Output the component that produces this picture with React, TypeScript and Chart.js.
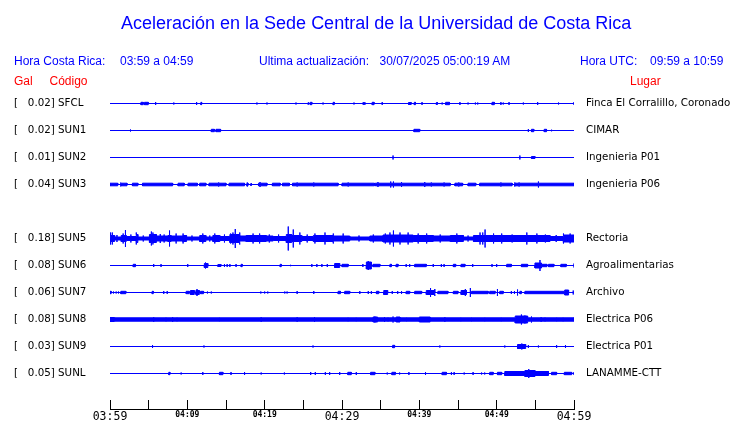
import React, { useEffect, useRef } from 'react';
import { Chart, registerables } from 'chart.js';

Chart.register(...registerables);

// ---------------- data ----------------
const STATIONS = ['SFCL', 'SUN1', 'SUN2', 'SUN3', 'SUN4', 'SUN5', 'SUN6', 'SUN7', 'SUN8', 'SUN9', 'SUNL'];
const PEAK_GAL: (number | null)[] = [0.02, 0.02, 0.01, 0.04, null, 0.18, 0.08, 0.06, 0.08, 0.03, 0.05];
const PLACES = [
  'Finca El Corralillo, Coronado', 'CIMAR', 'Ingenieria P01', 'Ingenieria P06', '',
  'Rectoria', 'Agroalimentarias', 'Archivo', 'Electrica P06', 'Electrica P01', 'LANAMME-CTT',
];
// minutes after 03:59
const TICK_MINUTES = [0, 5, 10, 15, 20, 25, 30, 35, 40, 45, 50, 55, 60];
const TICK_LABELS = ['03:59', '', '04:09', '', '04:19', '', '04:29', '', '04:39', '', '04:49', '', '04:59'];
const MAJOR_TICKS = ['03:59', '04:29', '04:59'];

// events: blocks [startMin, endMin, amplitude], spikes [min, amplitude]  (relative amplitude units)
const SFCL_BLOCKS = [[4.0, 4.3, 1.2], [4.45, 4.95, 1.2], [11.75, 11.85, 1.2], [25.6, 25.7, 0.8], [25.9, 26.1, 1.2], [28.85, 29.0, 1.2], [33.9, 34.15, 1.2], [38.6, 38.95, 1], [39.35, 39.5, 1.2], [42.2, 42.35, 1], [43.4, 43.9, 1.2], [49.4, 49.7, 1.2]];
const SFCL_SPIKES = [[5.9, 1.5], [8.25, 1], [11.2, 1.5], [19.0, 1], [20.3, 1], [24.05, 1], [27.55, 1], [31.55, 1], [32.75, 1.5], [32.95, 1.5], [35.2, 1.5], [40.35, 1.5], [42.95, 1], [45.25, 1.5], [46.3, 1], [47.25, 1], [47.55, 1], [50.55, 1.5], [50.85, 1], [51.6, 1.5], [53.45, 1], [55.3, 1.5], [58.0, 1], [60.0, 1.5]];

const SUN1_BLOCKS = [[13.1, 13.5, 1.2], [13.7, 14.3, 1.2], [39.3, 40.05, 1.2], [54.5, 54.8, 1.2], [56.15, 56.45, 1.2]];
const SUN1_SPIKES = [[2.65, 1], [54.1, 1.5], [57.1, 0.8]];

const SUN2_BLOCKS = [[54.5, 54.95, 1]];
const SUN2_SPIKES = [[36.6, 2], [53.0, 2]];

const SUN3_BLOCKS = [[0.0, 1.0, 1.3], [1.5, 2.2, 1.3], [2.9, 3.6, 1.3], [4.2, 8.1, 1.3], [8.8, 9.6, 1.3], [10.1, 11.3, 1.3], [11.6, 12.4, 1.3], [12.8, 15.0, 1.3], [15.4, 17.4, 1.3], [17.7, 17.85, 1.3], [18.2, 18.3, 1], [19.2, 20.3, 1.3], [21.0, 22.0, 1.3], [22.3, 23.2, 1.3], [23.6, 29.5, 1.3], [30.0, 34.2, 1.3], [34.3, 44.0, 1.3], [44.6, 45.6, 1.3], [46.3, 47.3, 1.3], [47.8, 52.0, 1.3], [52.3, 60.0, 1.3]];
const SUN3_SPIKES = [[1.4, 2], [14.05, 2], [17.75, 2], [19.4, 2.5], [24.2, 2], [26.35, 2], [30.8, 2], [34.65, 2.5], [36.3, 3], [36.65, 3], [37.7, 2.5], [40.7, 2.5], [41.55, 2], [43.2, 2], [45.1, 2], [50.55, 2], [52.35, 2], [52.9, 2], [55.4, 3]];

const SUN5_BLOCKS = [[0, 0.6, 3], [0.6, 1.45, 1.5], [1.45, 2.1, 3], [2.1, 3.4, 2], [3.4, 3.6, 4], [3.6, 5.1, 1.5], [5.1, 6.0, 4], [6.0, 7.5, 2.5], [7.5, 7.9, 3], [7.9, 9.4, 2.5], [9.4, 9.9, 3], [9.9, 11.6, 1.5], [11.6, 12.4, 3], [12.4, 13.3, 1.5], [13.3, 14.2, 3], [14.2, 15.5, 2], [15.5, 16.8, 4], [16.8, 17.6, 2.5], [17.6, 20.2, 3], [20.2, 21.1, 2.5], [21.1, 22.8, 2], [22.8, 23.5, 4], [23.5, 24.8, 3], [24.8, 26.3, 2], [26.3, 28.9, 3], [28.9, 31.0, 2.5], [31.0, 33.6, 1.5], [33.6, 35.3, 2.5], [35.3, 38.4, 3.5], [38.4, 39.2, 3.5], [39.2, 41.8, 3], [41.8, 44.0, 2.5], [44.0, 45.7, 3], [45.7, 47.0, 1.5], [47.0, 53.9, 3], [53.9, 56.9, 3], [56.9, 58.6, 2], [58.6, 60, 3.5]];
const SUN5_SPIKES = [[0.1, 6], [0.3, 6], [0.9, 3.5], [1.7, 5], [2.0, 8.5], [2.7, 4], [3.4, 6], [4.3, 3], [5.35, 7], [5.55, 6], [6.5, 4.5], [7.0, 4], [7.7, 8], [8.55, 5], [9.45, 5], [10.6, 3], [12.0, 5], [12.9, 3], [13.55, 5], [14.8, 4], [15.6, 5], [15.9, 6], [16.2, 9.5], [16.75, 6], [18.5, 5], [19.35, 5], [20.6, 4], [21.8, 4], [23.05, 12], [23.7, 9], [24.55, 6], [25.5, 4], [26.5, 5], [27.8, 6], [28.85, 5], [30.15, 5], [32.2, 3], [34.05, 4], [35.6, 5], [36.2, 6], [36.65, 8], [37.5, 6], [38.55, 6], [39.85, 5], [40.95, 5], [42.7, 4], [44.85, 5], [46.3, 3], [47.85, 6], [48.2, 6], [48.5, 9], [49.6, 5], [50.65, 5], [52.0, 4], [53.9, 6], [55.2, 5], [56.3, 4], [57.7, 3.5], [58.65, 5], [59.5, 5]];

const SUN6_BLOCKS = [[3.0, 3.3, 1.2], [12.2, 12.65, 2], [13.95, 14.35, 1], [16.95, 17.1, 1.2], [22.0, 22.15, 1.2], [29.05, 29.7, 2], [30.0, 30.8, 1.2], [33.15, 33.8, 3.5], [34.0, 34.9, 1.2], [36.2, 36.4, 1.2], [37.0, 37.25, 1.2], [39.4, 40.9, 1.2], [44.4, 44.7, 1.2], [45.4, 45.9, 1.2], [51.3, 51.9, 1.2], [53.2, 54.0, 1.2], [54.95, 55.8, 2.5], [55.8, 56.5, 1.2], [56.7, 57.4, 1.2], [58.3, 59.0, 1.2]];
const SUN6_SPIKES = [[5.65, 1.5], [6.6, 1.5], [10.05, 1.5], [12.35, 3], [14.8, 1.5], [15.15, 1.5], [15.5, 1.5], [16.3, 1.5], [23.35, 0.7], [26.1, 1.5], [26.75, 1.5], [27.4, 1.5], [28.1, 1.5], [32.7, 1.5], [33.4, 4.5], [38.3, 1.5], [38.75, 1.5], [41.8, 1.5], [42.85, 1.5], [43.2, 1.5], [46.9, 1.5], [49.4, 1.5], [50.0, 1.5], [55.6, 5.5], [60.0, 2]];

const SUN7_BLOCKS = [[0.0, 0.15, 1.2], [1.4, 2.05, 1.2], [5.45, 5.6, 1.2], [9.85, 10.25, 1.2], [10.4, 10.9, 2], [11.1, 11.55, 2], [11.7, 12.1, 1.2], [29.5, 29.8, 1.2], [30.35, 31.0, 1.2], [34.45, 34.75, 1.2], [35.4, 35.9, 2], [38.3, 38.75, 1.2], [39.4, 40.3, 1.2], [40.9, 42.0, 2], [42.4, 43.7, 1.2], [44.4, 45.0, 1.2], [45.4, 46.1, 2], [46.75, 48.9, 1.2], [49.1, 49.8, 1.2], [50.4, 50.85, 1.2], [53.0, 53.2, 1.2], [53.65, 58.8, 1.2], [58.8, 59.3, 2.5]];
const SUN7_SPIKES = [[0.45, 1], [0.8, 1], [1.1, 1], [6.95, 1.5], [7.4, 1.5], [11.25, 3.5], [12.6, 1], [13.1, 1], [19.5, 1], [20.0, 1], [20.4, 1], [22.6, 1], [22.9, 1], [24.2, 1.5], [26.35, 1.5], [32.3, 1.5], [33.4, 1.5], [33.8, 1.5], [36.5, 1.5], [37.2, 1.5], [37.7, 1.5], [41.45, 4.5], [42.0, 3.5], [45.95, 3.5], [46.6, 4.5], [50.1, 3.5], [51.9, 1.5], [52.3, 1.5], [52.7, 3], [59.9, 2]];

const SUN8_BLOCKS = [[0.0, 0.6, 2], [0.6, 34.0, 1.7], [34.0, 34.6, 2.5], [34.6, 37.0, 1.7], [37.0, 37.5, 2.5], [37.5, 40.0, 1.7], [40.0, 41.4, 2.5], [41.4, 52.4, 1.7], [52.4, 54.0, 3.5], [54.0, 60.0, 1.7]];
const SUN8_SPIKES = [[5.65, 2.5], [7.25, 2], [8.1, 2.5], [8.65, 2], [14.15, 2], [19.55, 2.5], [24.2, 2.5], [26.45, 2.5], [30.8, 2], [31.85, 2], [34.25, 3], [35.5, 2.5], [35.95, 2], [36.6, 3], [38.35, 2], [43.3, 2.5], [45.35, 2], [46.75, 2], [48.45, 2], [50.6, 2], [53.2, 5], [53.65, 4], [54.5, 3], [55.75, 2.5], [56.25, 2], [57.75, 2], [58.6, 2]];

const SUN9_BLOCKS = [[36.55, 36.8, 1.2], [52.7, 53.75, 2]];
const SUN9_SPIKES = [[5.5, 1.5], [12.15, 1], [26.25, 1], [42.65, 1], [51.05, 1], [53.25, 3], [54.1, 1.5], [55.4, 1], [57.75, 1.5], [58.9, 1.5]];

const SUNL_BLOCKS = [[7.6, 7.75, 1.2], [14.15, 14.6, 1.2], [30.75, 31.2, 1.2], [33.7, 34.25, 1.2], [36.45, 36.9, 1.2], [42.95, 43.5, 1.2], [49.1, 49.55, 1.2], [50.1, 50.65, 1.2], [51.05, 53.65, 2], [53.65, 54.95, 3], [54.95, 56.7, 2], [57.1, 57.75, 1.2], [58.75, 59.7, 1.2]];
const SUNL_SPIKES = [[9.2, 1], [12.0, 1.5], [15.65, 1.5], [17.4, 1.5], [19.55, 1], [22.55, 1], [25.95, 1.5], [26.55, 1.5], [27.85, 1.5], [28.4, 1.5], [29.7, 1.5], [31.85, 1.5], [35.85, 1], [37.45, 1], [38.65, 1.5], [40.8, 1.5], [44.15, 1.5], [44.5, 1.5], [45.8, 1], [46.95, 1.5], [48.05, 1], [48.45, 1], [54.15, 4.5], [60.0, 1.5]];

const BLOCKS: (number[][] | null)[] = [SFCL_BLOCKS, SUN1_BLOCKS, SUN2_BLOCKS, SUN3_BLOCKS, null, SUN5_BLOCKS, SUN6_BLOCKS, SUN7_BLOCKS, SUN8_BLOCKS, SUN9_BLOCKS, SUNL_BLOCKS];
const SPIKES: (number[][] | null)[] = [SFCL_SPIKES, SUN1_SPIKES, SUN2_SPIKES, SUN3_SPIKES, null, SUN5_SPIKES, SUN6_SPIKES, SUN7_SPIKES, SUN8_SPIKES, SUN9_SPIKES, SUNL_SPIKES];

// ---------------- styling ----------------
const BLUE = '#0000ff';
const RED = '#ff0000';
const AMP_TO_ROW = 1 / 27;
const T_START = 0;
const T_END = 60;
const LABEL_FONT = { family: '"DejaVu Sans"', size: 10.3 };

function envelope(blocks: number[][], spikes: number[][]) {
  const xs = new Set<number>([T_START, T_END]);
  blocks.forEach((b) => { xs.add(b[0]); xs.add(b[1]); });
  spikes.forEach((s) => xs.add(s[0]));
  const sorted = Array.from(xs).sort((a, b) => a - b);
  const ampIn = (lo: number, hi: number) => {
    let m = 0;
    for (const b of blocks) if (b[0] <= lo && b[1] >= hi && b[2] > m) m = b[2];
    return m;
  };
  const out: number[][] = [];
  sorted.forEach((x, i) => {
    const before = i > 0 ? ampIn(sorted[i - 1], x) : 0;
    const after = i < sorted.length - 1 ? ampIn(x, sorted[i + 1]) : 0;
    let spike = 0;
    for (const s of spikes) if (s[0] === x && s[1] > spike) spike = s[1];
    const seq = [before];
    if (spike > Math.max(before, after)) seq.push(spike);
    seq.push(after);
    seq.forEach((a) => {
      const last = out[out.length - 1];
      if (!last || last[0] !== x || last[1] !== a) out.push([x, a]);
    });
  });
  return out;
}

function buildDatasets() {
  const ds: any[] = [];
  STATIONS.forEach((_, row) => {
    const blocks = BLOCKS[row];
    const spikes = SPIKES[row];
    if (!blocks || !spikes) return;
    const env = envelope(blocks, spikes);
    const common = {
      borderColor: BLUE,
      backgroundColor: BLUE,
      borderWidth: 1,
      pointRadius: 0,
      pointHoverRadius: 0,
      tension: 0,
    };
    ds.push({ ...common, data: env.map(([x, a]) => ({ x, y: row - a * AMP_TO_ROW })), fill: false });
    ds.push({ ...common, data: env.map(([x, a]) => ({ x, y: row + a * AMP_TO_ROW })), fill: '-1' });
  });
  return ds;
}

const noPad = (s: any) => { s.paddingTop = 0; s.paddingBottom = 0; s.paddingLeft = 0; s.paddingRight = 0; };

const txt = (left: number, top: number, size: number, color: string): React.CSSProperties => ({
  position: 'absolute', left, top, fontFamily: '"Liberation Sans", Arial, sans-serif', fontSize: size,
  lineHeight: `${size}px`, color, whiteSpace: 'pre', margin: 0,
});

export default function App() {
  const ref = useRef<HTMLCanvasElement | null>(null);
  useEffect(() => {
    if (!ref.current) return;
    const rowIdx = STATIONS.map((_, i) => i);
    const yCommon = {
      type: 'linear' as const,
      reverse: true,
      min: -0.5,
      max: 11.3148,
      afterBuildTicks: (s: any) => { s.ticks = rowIdx.map((v) => ({ value: v })); },
      grid: { display: false, drawTicks: false },
      border: { display: false },
    };
    const chart = new Chart(ref.current, {
      type: 'line',
      data: { datasets: buildDatasets() },
      options: {
        animation: false,
        responsive: false,
        devicePixelRatio: 1,
        events: [],
        layout: { padding: { left: 14, top: 90, right: 0, bottom: 0 } },
        plugins: { legend: { display: false }, tooltip: { enabled: false }, title: { display: false } },
        scales: {
          x: {
            type: 'linear',
            position: 'bottom',
            min: T_START,
            max: T_END,
            afterBuildTicks: (s: any) => { s.ticks = TICK_MINUTES.map((v) => ({ value: v })); },
            afterFit: (s: any) => { s.height = 14; noPad(s); },
            ticks: {
              autoSkip: false,
              maxRotation: 0,
              padding: 10,
              color: '#000',
              callback: (_v: any, i: number) => TICK_LABELS[i],
              font: (ctx: any) => (MAJOR_TICKS.includes(TICK_LABELS[ctx.index])
                ? { family: '"DejaVu Sans Mono"', size: 11.5 }
                : { family: '"DejaVu Sans Mono"', size: 8, weight: 'bold' }),
            },
            grid: { drawOnChartArea: false, drawTicks: true, tickLength: -9, color: '#000', lineWidth: 1 },
            border: { display: true, color: '#000', width: 1 },
          },
          y: {
            ...yCommon,
            position: 'left',
            afterFit: (s: any) => { s.width = 96; noPad(s); },
            ticks: {
              autoSkip: false,
              crossAlign: 'far',
              padding: 0,
              color: '#000',
              font: LABEL_FONT,
              callback: (_v: any, i: number) => {
                const g = PEAK_GAL[i];
                return g == null ? '' : `[   ${g.toFixed(2)}] ${STATIONS[i]}`;
              },
            },
          },
          yRight: {
            ...yCommon,
            position: 'right',
            afterFit: (s: any) => { s.width = 166; noPad(s); },
            ticks: {
              autoSkip: false,
              crossAlign: 'near',
              padding: 12,
              color: '#000',
              font: LABEL_FONT,
              callback: (_v: any, i: number) => PLACES[i],
            },
          },
        },
      } as any,
    });
    return () => chart.destroy();
  }, []);

  return (
    <div style={{ position: 'fixed', left: 0, top: 0, width: 740, height: 423, background: '#fff', overflow: 'hidden' }}>
      <canvas ref={ref} width={740} height={423} style={{ position: 'absolute', left: 0, top: 0, width: 740, height: 423 }} />
      <div style={txt(121, 13.5, 18, BLUE)}>Aceleración en la Sede Central de la Universidad de Costa Rica</div>
      <div style={txt(14, 55, 12, BLUE)}>Hora Costa Rica:</div>
      <div style={txt(120, 55, 12, BLUE)}>03:59 a 04:59</div>
      <div style={txt(259, 55, 12, BLUE)}>Ultima actualización:</div>
      <div style={txt(379.5, 55, 12, BLUE)}>30/07/2025 05:00:19 AM</div>
      <div style={txt(580, 55, 12, BLUE)}>Hora UTC:</div>
      <div style={txt(650, 55, 12, BLUE)}>09:59 a 10:59</div>
      <div style={txt(14, 74.8, 12, RED)}>Gal</div>
      <div style={txt(49.5, 74.8, 12, RED)}>Código</div>
      <div style={txt(630, 74.8, 12, RED)}>Lugar</div>
    </div>
  );
}
